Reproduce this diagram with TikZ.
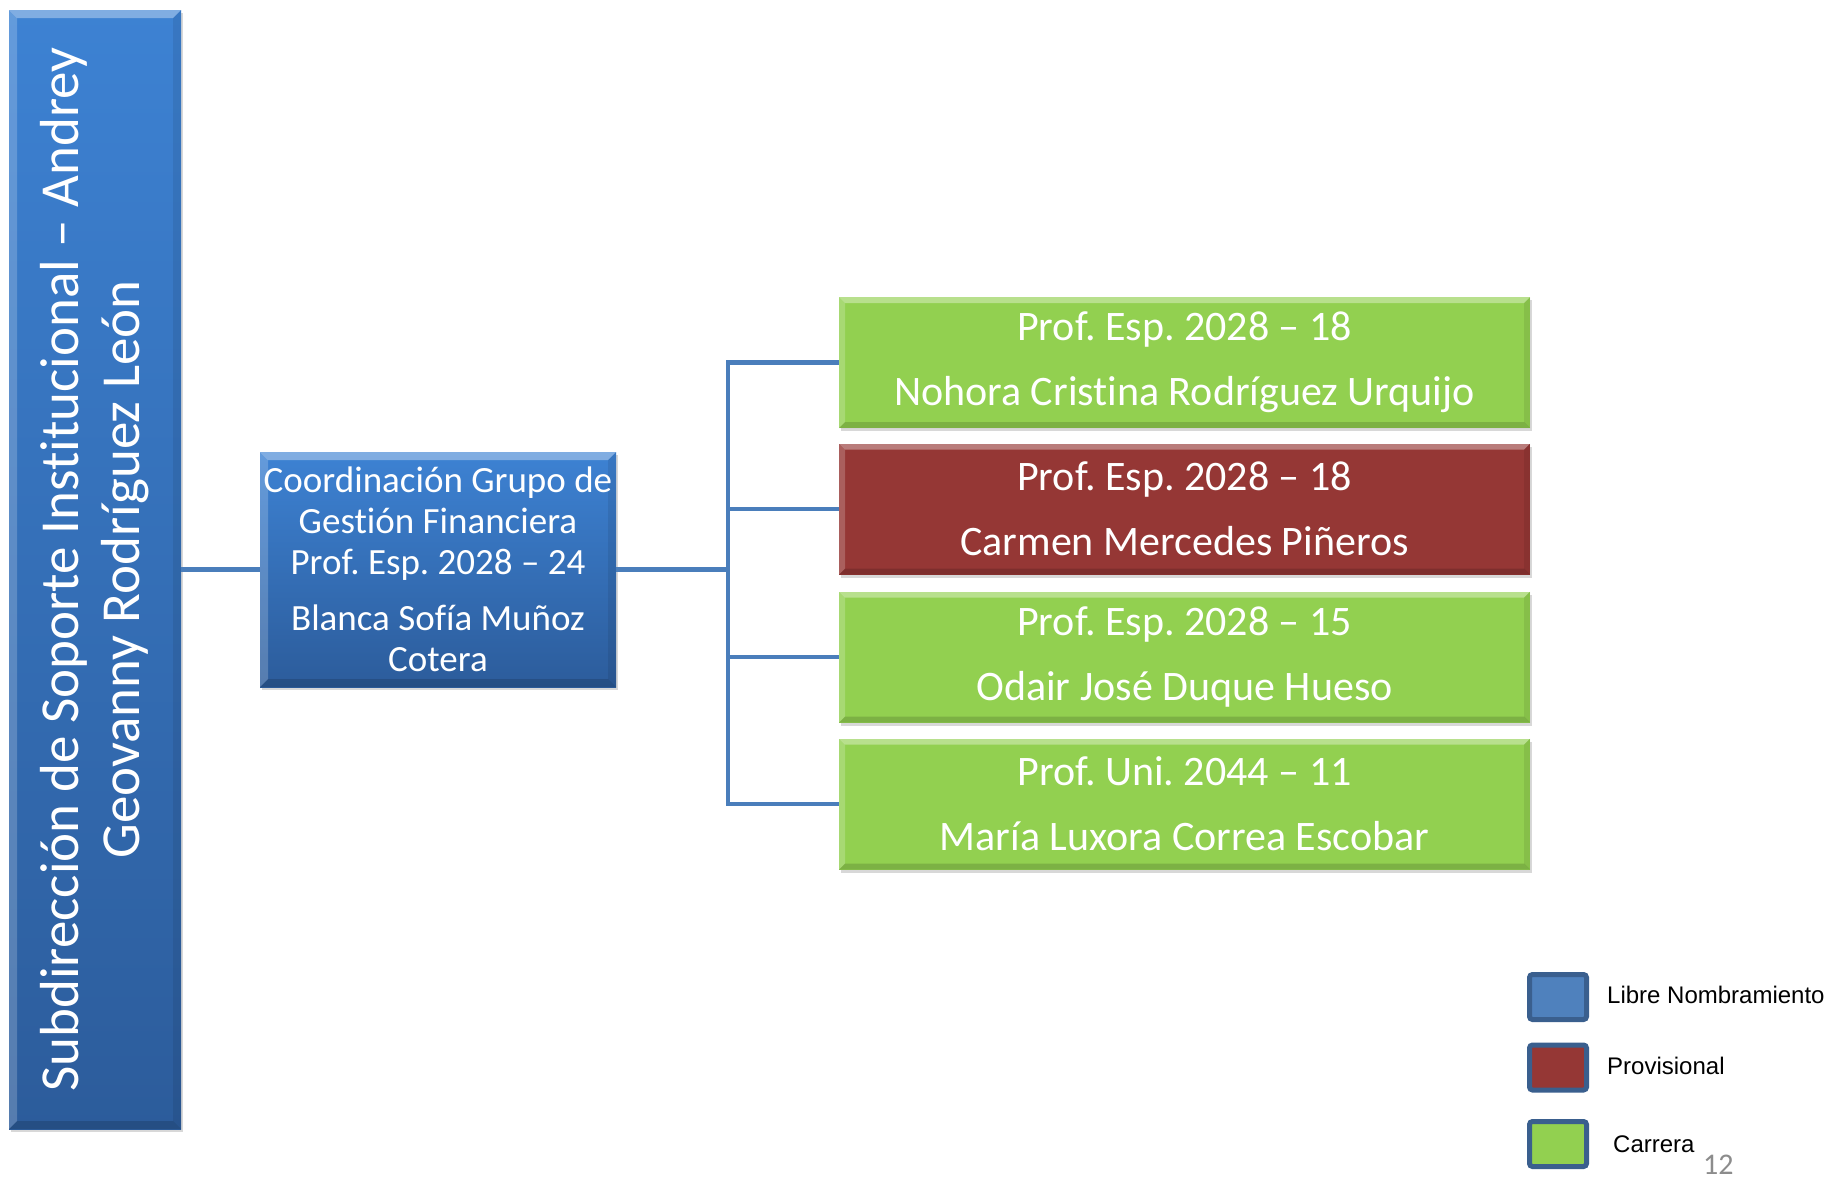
\documentclass[tikz,border=0pt]{standalone}
\usepackage{fontspec}
\setmainfont{Carlito}[Ligatures=NoCommon]
\newfontfamily\legendfont{Liberation Sans}
\usetikzlibrary{shadows}
\frenchspacing
\definecolor{bluetop}{HTML}{3D82D3}
\definecolor{bluebot}{HTML}{2C5C9B}
\definecolor{greenfill}{HTML}{92D050}
\definecolor{redfill}{HTML}{953735}
\definecolor{conncol}{HTML}{4A7EBB}
\definecolor{legblue}{HTML}{4F81BD}
\definecolor{legborder}{HTML}{3A5F8E}
\definecolor{pagegray}{HTML}{8C8C8C}
\tikzset{
  bevel/.style={path picture={
    \path (path picture bounding box.north west) coordinate (bvnw)
          (path picture bounding box.north east) coordinate (bvne)
          (path picture bounding box.south west) coordinate (bvsw)
          (path picture bounding box.south east) coordinate (bvse);
    \fill[white,opacity=0.35] (bvnw) -- (bvne) -- ([shift={(-#1,-#1)}]bvne) -- ([shift={(#1,-#1)}]bvnw) -- cycle;
    \fill[white,opacity=0.2] (bvnw) -- ([shift={(#1,-#1)}]bvnw) -- ([shift={(#1,#1)}]bvsw) -- (bvsw) -- cycle;
    \fill[black,opacity=0.15] (bvsw) -- ([shift={(#1,#1)}]bvsw) -- ([shift={(-#1,#1)}]bvse) -- (bvse) -- cycle;
    \fill[black,opacity=0.08] (bvne) -- ([shift={(-#1,-#1)}]bvne) -- ([shift={(-#1,#1)}]bvse) -- (bvse) -- cycle;
  }},
  box/.style={rectangle, inner sep=0pt, text=white, align=center,
    drop shadow={opacity=0.3, shadow xshift=2pt, shadow yshift=-3pt}},
  bluebox/.style={box, top color=bluetop, bottom color=bluebot, bevel=8pt},
  greenbox/.style={box, fill=greenfill, bevel=6pt, minimum width=691pt, minimum height=131pt,
    font=\fontsize{42pt}{65pt}\selectfont},
  redbox/.style={greenbox, fill=redfill},
  conn/.style={draw=conncol, line width=4.5pt},
  legsq/.style={rectangle, draw=legborder, line width=5pt, rounded corners=3pt,
    minimum width=57pt, minimum height=45pt, inner sep=0pt},
  legtext/.style={anchor=base west, inner sep=0pt, font=\legendfont\fontsize{24pt}{28pt}\selectfont}
}
\begin{document}
\begin{tikzpicture}[x=1pt,y=-1pt]
\useasboundingbox[fill=white] (0,0) rectangle (1827,1179);
% main boxes
\node[bluebox, minimum width=172pt, minimum height=1119pt] (left) at (95,569.5) {};
\node[rotate=90, text=white, align=center, inner sep=0pt,
  font=\fontsize{55pt}{61pt}\selectfont] (lefttext) at (left.center)
  {Subdirección de Soporte Institucional – Andrey\\Geovanny Rodríguez León};
\node[bluebox, minimum width=356pt, minimum height=235pt,
  font=\fontsize{37pt}{41pt}\selectfont] (coord) at (438,569.5)
  {Coordinación Grupo de\\Gestión Financiera\\Prof. Esp. 2028 – 24\\[15pt]Blanca Sofía Muñoz\\Cotera};
\node[greenbox] (c1) at (1184.5,362.5) {Prof. Esp. 2028 – 18\\Nohora Cristina Rodríguez Urquijo};
\node[redbox] (c2) at (1184.5,509) {Prof. Esp. 2028 – 18\\Carmen Mercedes Piñeros};
\node[greenbox] (c3) at (1184.5,657) {Prof. Esp. 2028 – 15\\Odair José Duque Hueso};
\node[greenbox] (c4) at (1184.5,804) {Prof. Uni. 2044 – 11\\María Luxora Correa Escobar};
% connectors
\coordinate (bus) at (728,569.5);
\draw[conn] (left.east) -- (coord.west);
\draw[conn] (coord.east) -- (bus);
\foreach \n in {c1,c2,c3,c4} \draw[conn] (\n.west) -| (bus);
% legend
\node[legsq, fill=legblue] (lsq1) at (1558,997) {};
\node[legsq, fill=redfill] (lsq2) at (1558,1067.5) {};
\node[legsq, fill=greenfill] (lsq3) at (1558,1144) {};
\node[legtext] (lt1) at (1607,1003) {Libre Nombramiento};
\node[legtext] (lt2) at (1607,1074) {Provisional};
\node[legtext] (lt3) at (1613,1152) {Carrera};
\node[anchor=base west, inner sep=0pt, text=pagegray, font=\fontsize{30pt}{34pt}\selectfont] (pagenum) at (1703,1174) {12};
\end{tikzpicture}
\end{document}
